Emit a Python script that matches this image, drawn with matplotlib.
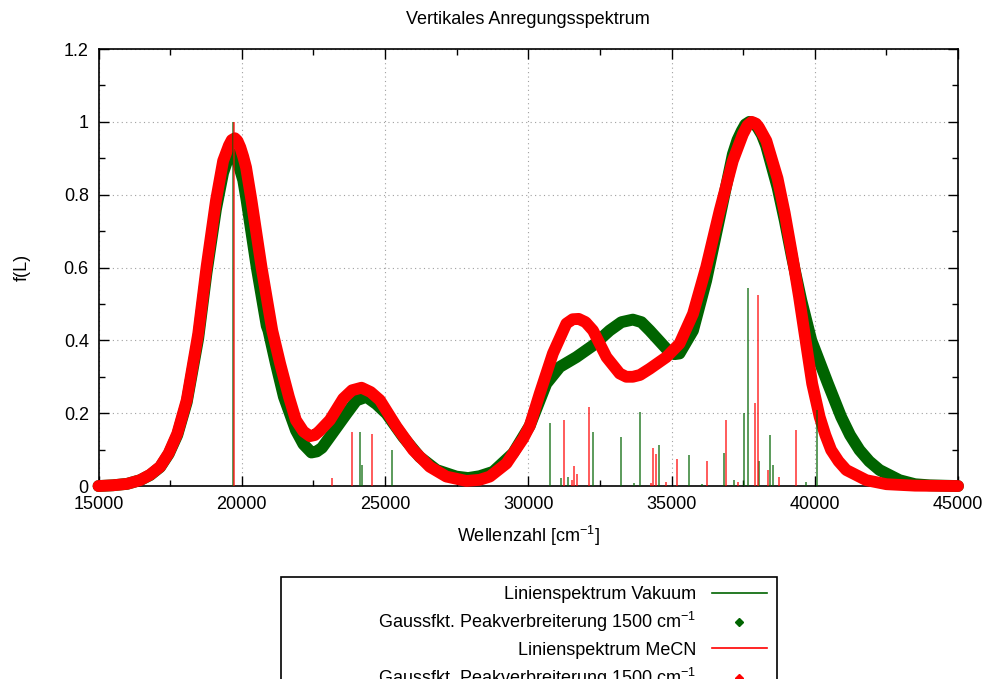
import matplotlib
matplotlib.use("Agg")
import matplotlib.pyplot as plt
from matplotlib.lines import Line2D
from matplotlib.patches import Rectangle
from matplotlib.ticker import MultipleLocator, FuncFormatter

plt.rcParams['font.family'] = ['Liberation Sans', 'DejaVu Sans']
plt.rcParams['mathtext.default'] = 'regular'
plt.rcParams['font.size'] = 13

# Linienspektrum Vakuum (Wellenzahl, f)
stick_vak_x = [19680, 24130, 24190, 25250, 30760, 31155, 31390, 32250, 33230,
               33690, 33910, 34550, 35620, 36050, 36840, 37180, 37540, 37680,
               38060, 38430, 38540, 39700, 40070]
stick_vak_h = [1.0, 0.147, 0.059, 0.099, 0.174, 0.023, 0.025, 0.148, 0.134,
               0.009, 0.203, 0.114, 0.085, 0.005, 0.092, 0.016, 0.200, 0.545,
               0.068, 0.140, 0.058, 0.011, 0.208]

# Linienspektrum MeCN
stick_mecn_x = [19735, 23135, 23840, 24560, 31235, 31525, 31595, 31715, 32120,
                34270, 34365, 34470, 34820, 35190, 36235, 36885, 37330, 37925,
                38015, 38365, 38745, 39355]
stick_mecn_h = [1.0, 0.023, 0.147, 0.142, 0.181, 0.016, 0.054, 0.032, 0.216,
                0.009, 0.104, 0.088, 0.010, 0.075, 0.068, 0.180, 0.012, 0.228,
                0.525, 0.044, 0.026, 0.153]

# Gauss-verbreitertes Spektrum Vakuum
gauss_vak_x = [15000, 15500, 16000, 16450, 16800, 17150, 17450, 17750, 18080,
               18480, 18770, 19100, 19350, 19500, 19680, 19800, 19900, 20050,
               20170, 20520, 20870, 20930, 21190, 21470, 21890, 22150, 22430,
               22620, 22800, 23075, 23660, 24000, 24350, 24700, 25050, 25630,
               26210, 26800, 27490, 27900, 28300, 28770, 29470, 30050, 30350,
               30630, 31100, 31680, 32260, 32840, 33250, 33650, 33950, 34240,
               34820, 35100, 35280, 35750, 36210, 36680, 37140, 37300, 37450,
               37580, 37720, 37860, 38000, 38150, 38300, 38700, 38950, 39200,
               39530, 39880, 40460, 40920, 41230, 41560, 41900, 42260, 42960,
               43500, 44000, 45000]
gauss_vak_y = [0.0, 0.002, 0.006, 0.016, 0.030, 0.052, 0.088, 0.140, 0.230,
               0.405, 0.585, 0.760, 0.860, 0.895, 0.912, 0.905, 0.880, 0.840,
               0.784, 0.601, 0.440, 0.427, 0.336, 0.245, 0.153, 0.115, 0.092,
               0.095, 0.105, 0.135, 0.199, 0.235, 0.245, 0.225, 0.199, 0.135,
               0.080, 0.044, 0.026, 0.022, 0.027, 0.039, 0.090, 0.165, 0.225,
               0.281, 0.327, 0.354, 0.386, 0.427, 0.450, 0.457, 0.450, 0.427,
               0.377, 0.362, 0.364, 0.427, 0.564, 0.738, 0.911, 0.950, 0.975,
               0.993, 1.0, 0.997, 0.985, 0.965, 0.935, 0.820, 0.730, 0.630,
               0.510, 0.400, 0.281, 0.190, 0.140, 0.099, 0.068, 0.044, 0.016,
               0.005, 0.002, 0.0]

# Gauss-verbreitertes Spektrum MeCN
gauss_mecn_x = [15000, 15500, 16000, 16450, 16800, 17150, 17450, 17750, 18080,
                18480, 18770, 19100, 19350, 19550, 19650, 19760, 19850, 19950,
                20050, 20150, 20340, 20690, 21065, 21340, 21645, 21890, 22150,
                22380, 22550, 22700, 23075, 23540, 23850, 24180, 24500, 24820,
                25400, 25980, 26560, 27140, 27840, 28300, 28660, 29240, 29820,
                30050, 30400, 30860, 31330, 31550, 31760, 32000, 32260, 32730,
                33190, 33420, 33650, 33900, 34240, 34820, 35280, 35750, 36210,
                36680, 37140, 37490, 37650, 37800, 37950, 38050, 38310, 38700,
                38950, 39220, 39450, 39680, 39910, 40170, 40370, 40570, 40830,
                41100, 41800, 42500, 43500, 45000]
gauss_mecn_y = [0.0, 0.002, 0.006, 0.016, 0.031, 0.053, 0.090, 0.144, 0.236,
                0.418, 0.601, 0.784, 0.893, 0.935, 0.950, 0.955, 0.948, 0.930,
                0.905, 0.875, 0.784, 0.601, 0.427, 0.336, 0.245, 0.181, 0.150,
                0.137, 0.140, 0.150, 0.181, 0.240, 0.263, 0.270, 0.258, 0.236,
                0.163, 0.099, 0.053, 0.026, 0.014, 0.017, 0.026, 0.062, 0.130,
                0.165, 0.254, 0.364, 0.446, 0.458, 0.459, 0.450, 0.427, 0.354,
                0.309, 0.300, 0.300, 0.305, 0.322, 0.354, 0.391, 0.473, 0.601,
                0.756, 0.893, 0.966, 0.990, 1.0, 0.995, 0.985, 0.948, 0.845,
                0.750, 0.630, 0.520, 0.400, 0.281, 0.190, 0.140, 0.099, 0.068,
                0.044, 0.016, 0.005, 0.001, 0.0]

green = '#006400'
red = '#ff0000'

fig = plt.figure(figsize=(9.9, 6.79), dpi=100)
ax = fig.add_axes([0.0995, 0.2842, 0.8682, 0.6436])

ax.plot(gauss_vak_x, gauss_vak_y, color=green, lw=8.5, solid_capstyle='round',
        solid_joinstyle='round', clip_on=False, zorder=2)
ax.plot(gauss_mecn_x, gauss_mecn_y, color=red, lw=8.5, solid_capstyle='round',
        solid_joinstyle='round', clip_on=False, zorder=3)
ax.vlines(stick_vak_x, 0, stick_vak_h, color=green, lw=1.2, alpha=0.75, zorder=4)
ax.vlines(stick_mecn_x, 0, stick_mecn_h, color=red, lw=1.2, alpha=0.75, zorder=4)

ax.set_xlim(15000, 45000)
ax.set_ylim(0, 1.2)
ax.xaxis.set_major_locator(MultipleLocator(5000))
ax.xaxis.set_minor_locator(MultipleLocator(2500))
ax.yaxis.set_major_locator(MultipleLocator(0.2))
ax.yaxis.set_minor_locator(MultipleLocator(0.1))
ax.yaxis.set_major_formatter(FuncFormatter(lambda v, p: '%g' % round(v, 2)))
ax.tick_params(which='both', direction='in', top=True, right=True, labelsize=13)
ax.tick_params(which='major', length=7, width=1, pad=7)
ax.tick_params(which='minor', length=4, width=1)
ax.grid(True, which='major', color='#a0a0a0', lw=0.8, linestyle=(0, (1, 3)))
ax.set_axisbelow(True)
for s in ax.spines.values():
    s.set_linewidth(1.2)

ax.set_title('Vertikales Anregungsspektrum', fontsize=13, pad=18)
ax.set_xlabel('Wellenzahl [cm$^{-1}$]', fontsize=13, labelpad=8)
ax.set_ylabel('f(L)', fontsize=13, labelpad=24)

handles = [Line2D([], [], color=green, lw=1.2),
           Line2D([], [], color=green, marker='D', ms=4, ls='none'),
           Line2D([], [], color=red, lw=1.2),
           Line2D([], [], color=red, marker='D', ms=4, ls='none')]
labels = ['Linienspektrum Vakuum',
          'Gaussfkt. Peakverbreiterung 1500 cm$^{-1}$',
          'Linienspektrum MeCN',
          'Gaussfkt. Peakverbreiterung 1500 cm$^{-1}$']
fig.legend(handles, labels, loc='upper right', bbox_to_anchor=(776 / 990, 1 - 577 / 679),
           frameon=False, markerfirst=False, borderpad=0, handlelength=3.05,
           handletextpad=0.85, labelspacing=0.4, fontsize=13)
fig.add_artist(Rectangle((281 / 990, -0.05), (777 - 281) / 990, 0.05 + 1 - 577 / 679,
                         transform=fig.transFigure, fill=False, edgecolor='black', lw=1.2))

fig.savefig('out.png', dpi=100)
